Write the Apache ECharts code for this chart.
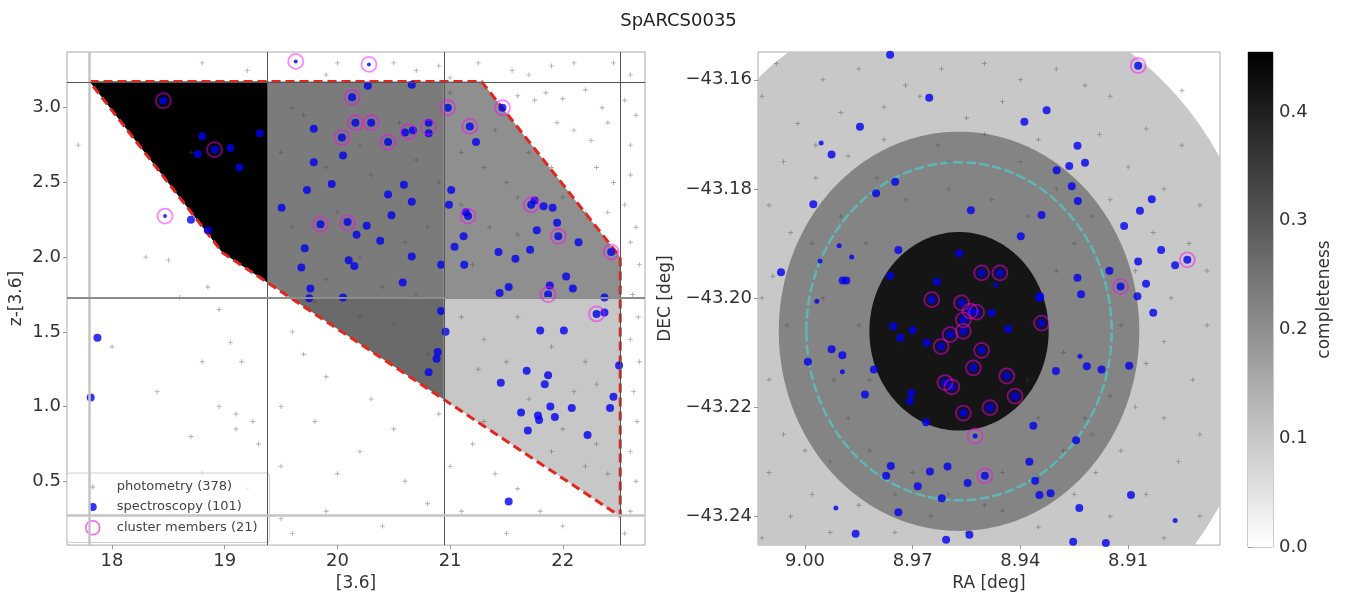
<!DOCTYPE html>
<html>
<head>
<meta charset="utf-8">
<script src="https://cdn.jsdelivr.net/npm/echarts@6/dist/echarts.min.js"></script>
<style>
html,body{margin:0;padding:0;background:#fff}
#main{width:1357px;height:597px}
</style>
</head>
<body>
<div id="main"></div>
<script>
var FONT = 'DejaVu Sans';

// ---------- left panel: colour-magnitude selection ----------
var xTicksL = [18, 19, 20, 21, 22];
var yTicksL = [0.5, 1.0, 1.5, 2.0, 2.5, 3.0];
var xEdges = [17.8, 19.375, 20.945, 22.51];
var yEdges = [0.265, 1.727, 3.175];
// completeness per cell, row 0 = lower y bin, row 1 = upper y bin
var cellCompl = [[0.0, 0.265, 0.10], [0.46, 0.235, 0.20]];
var selPoly = [[17.8, 3.175], [21.28, 3.175], [22.51, 2.0], [22.51, 0.265], [18.98, 2.03]];

var photL = [[21.55,3.25],[21.7,3.22],[21.9,3.28],[22.1,3.3],[22.45,3.3],[22.6,3.22],[21.6,3.08],[21.75,3.05],[21.85,3.1],[22.0,3.06],[22.2,3.12],[22.35,3.0],[22.55,3.05],[22.65,2.95],[21.95,2.9],[22.1,2.85],[22.25,2.78],[22.4,2.9],[22.6,2.75],[22.3,2.6],[22.45,2.5],[22.6,2.55],[22.55,2.35],[22.65,2.2],[22.4,2.3],[22.6,2.1],[22.68,1.95],[22.62,1.75],[22.67,1.6],[22.6,1.45],[22.68,1.3],[22.63,1.1],[22.66,0.9],[22.6,0.7],[22.65,0.5],[22.6,0.3],[22.55,0.15],
  [20.0,3.3],[20.5,3.3],[20.7,3.25],[20.9,3.28],[21.0,3.2],[21.25,3.3],[19.9,3.22],[18.8,3.3],[19.2,3.25],
  [19.6,3.0],[19.5,2.7],[19.9,2.6],[20.3,2.55],[20.7,2.65],[20.9,2.5],[21.3,2.6],[21.5,2.5],[21.7,2.7],[21.4,2.85],[21.6,2.4],[21.9,2.6],[22.0,2.4],[22.2,2.3],[21.35,2.2],[21.6,2.15],[21.2,1.95],[20.6,2.1],[20.2,2.0],[19.9,1.85],[20.4,1.8],[20.7,1.75],[21.1,1.6],[21.3,1.45],[21.6,1.6],[21.9,1.4],[22.2,1.3],[22.3,1.15],[22.1,1.1],[21.5,1.3],[21.25,1.25],[21.7,1.05],[22.0,0.85],[22.3,0.75],[22.4,0.55],[22.2,0.6],[21.9,0.7],[20.5,1.55],[20.2,1.6],[19.8,1.7],[20.8,1.35],[19.6,2.2],[20.0,2.3],[20.8,2.2],[21.1,2.35],[20.55,2.9],[20.2,2.75],[19.7,2.95],[21.1,2.7],[21.0,3.1],
  [19.6,1.5],[19.7,1.35],[19.9,1.2],[20.3,1.05],[20.5,0.85],[20.2,0.7],[19.8,0.9],[19.5,1.0],[20.0,0.55],[20.6,0.5],[20.8,0.35],[21.0,0.6],[21.2,0.75],[21.4,0.55],[21.6,0.45],[21.1,0.3],[21.8,0.3],[22.0,0.2],[21.5,0.15],[20.4,0.2],[19.9,0.3],[19.6,0.15],[21.3,0.9],[20.9,0.95],[19.5,0.6],[19.2,0.45],
  [17.7,2.75],[18.3,2.0],[18.7,2.7],[18.5,1.98],[18.6,1.73],[18.85,1.8],[18.95,1.65],[19.05,1.43],[19.15,1.3],[18.4,1.1],[18.8,1.3],[18.0,1.4],[18.95,1.0],[19.1,0.95],[19.25,0.9],[19.1,0.85],[19.3,0.75],[18.7,0.8],[18.8,0.55],[18.2,0.4],[18.5,0.3],[19.5,0.25]];

var specL = [[18.80,2.81],[19.05,2.73],[18.76,2.69],[19.13,2.60],[19.31,2.83],[18.70,2.25],[18.85,2.18],[18.455,3.047],[18.91,2.72],
  [19.505,2.33],[19.79,2.86],[20.04,2.80],[20.13,3.07],[20.16,2.90],[20.05,2.68],[19.79,2.635],[19.95,2.49],[19.73,2.45],[19.85,2.22],[20.09,2.235],[20.17,2.15],[19.71,2.06],[19.68,1.93],[20.10,1.98],[20.15,1.94],[19.76,1.79],[19.75,1.725],[20.05,1.73],
  [20.27,3.147],[20.66,3.153],[20.98,3.00],[20.30,2.90],[20.45,2.77],[20.60,2.835],[20.67,2.85],[20.81,2.90],[20.81,2.83],[21.175,2.875],[21.23,2.77],[20.59,2.485],[20.45,2.42],[20.66,2.37],[20.48,2.28],[21.01,2.45],[20.99,2.35],[20.26,2.21],[20.38,2.11],[20.66,2.005],[20.92,1.95],[21.125,1.95],[21.04,2.07],[21.12,2.14],[21.16,2.275],[21.14,2.30],[20.58,1.83],[20.92,1.64],
  [21.465,3.00],[21.72,2.35],[21.75,2.38],[21.83,2.34],[21.91,2.33],[21.95,2.23],[21.77,2.18],[21.96,2.14],[22.14,2.10],[22.43,2.035],[21.43,2.035],[21.58,1.99],[21.71,2.05],[22.03,1.87],[22.09,1.79],[21.885,1.81],[21.87,1.75],[21.44,1.76],[21.52,1.80],[22.37,1.73],[22.30,1.62],[22.37,1.63],
  [20.96,1.50],[20.89,1.365],[20.88,1.32],[20.81,1.23],[21.80,1.51],[22.01,1.51],[22.50,1.275],[21.68,1.24],[21.87,1.21],[21.84,1.15],[21.45,1.16],[22.45,1.065],[22.42,0.99],[21.89,1.00],[21.93,0.93],[21.78,0.94],[21.79,0.91],[22.08,0.99],[21.63,0.96],[21.69,0.84],[22.22,0.81],[21.52,0.365],[17.87,1.46],[17.81,1.06]];
var specSmallL = [[18.47,2.275],[19.63,3.31],[20.28,3.29]];
var clusterL = [[18.455,3.047],[18.91,2.72],[18.47,2.275],[19.63,3.31],[20.28,3.29],[20.13,3.07],[20.98,3.00],[20.16,2.90],[20.30,2.90],[20.04,2.80],[20.45,2.77],[20.63,2.84],[20.81,2.87],[21.175,2.875],[19.85,2.22],[20.09,2.23],[21.16,2.275],[21.465,3.00],[21.72,2.35],[21.96,2.14],[22.43,2.035],[21.87,1.75],[22.30,1.62]];

// ---------- right panel: sky positions ----------
var raTicks = [9.00, 8.97, 8.94, 8.91];
var decTicks = [-43.24, -43.22, -43.20, -43.18, -43.16];
var raMin = 8.8844, raMax = 9.0131, decMin = -43.2453, decMax = -43.1549;
var raC = 8.9571, decC = -43.2061;
var ringR = [0.0618, 0.0366, 0.0182];
var ringCompl = [0.098, 0.22, 0.418];
var r200 = 0.031;
var cbTicks = [0.0, 0.1, 0.2, 0.3, 0.4];
var cbMax = 0.455;

var photR = [[9.008,-43.157],[8.995,-43.160],[8.985,-43.158],[8.972,-43.161],[8.962,-43.158],[8.950,-43.157],[8.940,-43.160],[8.930,-43.158],[8.922,-43.161],[8.915,-43.163],[8.945,-43.164],[8.955,-43.167],[8.968,-43.163],[8.978,-43.165],[8.990,-43.166],[9.002,-43.168],[9.006,-43.175],[8.997,-43.172],[8.988,-43.174],[8.978,-43.171],[8.963,-43.172],[8.950,-43.170],[8.935,-43.171],[8.918,-43.170],[8.905,-43.169],[8.895,-43.172],[8.910,-43.176],[8.900,-43.180],[8.890,-43.183],[8.915,-43.182],[9.010,-43.183],[9.004,-43.188],[9.009,-43.196],[9.005,-43.205],[9.010,-43.215],[9.006,-43.225],[9.010,-43.232],[9.004,-43.240],[8.998,-43.236],[8.993,-43.243],[8.985,-43.238],[8.975,-43.243],[8.965,-43.240],[8.955,-43.243],[8.945,-43.239],[8.935,-43.242],[8.925,-43.236],[8.915,-43.240],[8.905,-43.236],[8.896,-43.230],[8.890,-43.225],[8.900,-43.222],[8.892,-43.215],[8.905,-43.212],[8.888,-43.205],[8.898,-43.200],[8.893,-43.190],[8.903,-43.188],[8.912,-43.205],[8.915,-43.218],[8.922,-43.222],[8.912,-43.228],[8.919,-43.232],[8.928,-43.228],
  [8.990,-43.185],[8.983,-43.190],[8.995,-43.200],[8.992,-43.215],[8.988,-43.222],[8.982,-43.228],[8.970,-43.232],[8.960,-43.236],[8.945,-43.232],[8.935,-43.222],[8.928,-43.210],[8.930,-43.195],[8.938,-43.185],[8.948,-43.182],[8.960,-43.180],[8.972,-43.182],[8.985,-43.205],[8.982,-43.215],[8.938,-43.215],
  [8.925,-43.190],[8.930,-43.180],[8.940,-43.175],[8.960,-43.175],[8.980,-43.178],[8.997,-43.178],[8.998,-43.190],[9.000,-43.228],[8.993,-43.230],[8.975,-43.236],[8.950,-43.238],[8.935,-43.233],[8.920,-43.225],[8.908,-43.220],[8.900,-43.208],[8.908,-43.195],[8.920,-43.185],[8.895,-43.162],[8.888,-43.195],[8.890,-43.240],[8.900,-43.244],[9.012,-43.163],[9.012,-43.200],[9.012,-43.244]];

var specR = [[8.9763,-43.1554],[8.9654,-43.1633],[8.9847,-43.1686],[8.9926,-43.1737],[8.9749,-43.1787],[8.9802,-43.1808],[8.9977,-43.1828],[8.9740,-43.1912],[8.9895,-43.1968],[8.9885,-43.1968],[9.0067,-43.1953],[8.9763,-43.1959],
  [8.9072,-43.1574],[8.9327,-43.1656],[8.9389,-43.1677],[8.9241,-43.1721],[8.9220,-43.1752],[8.9264,-43.1758],[8.9299,-43.1766],[8.9257,-43.1795],[8.9240,-43.1822],[8.9034,-43.1819],[8.9067,-43.1840],[8.9111,-43.1868],[8.9538,-43.1839],[8.9341,-43.1848],[8.9399,-43.1887],[8.9008,-43.1912],[8.9072,-43.1933],[8.8969,-43.1940],[8.8935,-43.1930],[8.9152,-43.1950],[8.9121,-43.1979],[8.9050,-43.1974],[8.9074,-43.1997],[8.9241,-43.1963],[8.9231,-43.1993],[8.9030,-43.2027],[8.9570,-43.1918],[8.9508,-43.1954],[8.9457,-43.1954],[8.9345,-43.1997],
  [8.9633,-43.1970],[8.9647,-43.2003],[8.9564,-43.2009],[8.9540,-43.2024],[8.9522,-43.2026],[8.9559,-43.2040],[8.9596,-43.2067],[8.9559,-43.2061],[8.9480,-43.2027],[8.9347,-43.2000],[8.9341,-43.2046],[8.9434,-43.2057],[8.9754,-43.2052],[8.9700,-43.2059],[8.9735,-43.2073],[8.9661,-43.2082],[8.9621,-43.2089],[8.9508,-43.2096],[8.9531,-43.2128],[8.9808,-43.2131],[8.9301,-43.2134],[8.9438,-43.2143],[8.9610,-43.2155],[8.9591,-43.2163],[8.9415,-43.2180],[8.9833,-43.2177],[8.9703,-43.2174],[8.9708,-43.2189],[8.9559,-43.2211],[8.9485,-43.2201],[8.9663,-43.2228],[8.9364,-43.2234],
  [8.9926,-43.2094],[8.9896,-43.2105],[8.9992,-43.2117],[8.9761,-43.2308],[8.9774,-43.2326],[8.9652,-43.2318],[8.9686,-43.2345],[8.9619,-43.2367],[8.9603,-43.2309],[8.9740,-43.2393],[8.9859,-43.2432],[8.9607,-43.2443],
  [8.9215,-43.2125],[8.9174,-43.2131],[8.9097,-43.2124],[8.9245,-43.2261],[8.9375,-43.2300],[8.9359,-43.2335],[8.9347,-43.2361],[8.9316,-43.2358],[8.9547,-43.2339],[8.9499,-43.2326],[8.9092,-43.2361],[8.9236,-43.2385],[8.9542,-43.2434],[8.9253,-43.2447],[8.9162,-43.2449]];
var specSmallR = [[8.9955,-43.1716],[8.9905,-43.1904],[8.9870,-43.1925],[8.9958,-43.1932],[8.9967,-43.2006],[8.9896,-43.2135],[8.9914,-43.2385],[8.9234,-43.2107],[8.8969,-43.2408],[8.9468,-43.1976],[8.9526,-43.2253]];
var clusterR = [[8.9072,-43.1574],[8.8935,-43.1930],[8.9121,-43.1979],[8.9508,-43.1954],[8.9457,-43.1954],[8.9647,-43.2003],[8.9564,-43.2009],[8.9540,-43.2024],[8.9522,-43.2026],[8.9559,-43.2040],[8.9596,-43.2067],[8.9559,-43.2061],[8.9341,-43.2046],[8.9621,-43.2089],[8.9508,-43.2096],[8.9531,-43.2128],[8.9438,-43.2143],[8.9610,-43.2155],[8.9591,-43.2163],[8.9415,-43.2180],[8.9559,-43.2211],[8.9485,-43.2201],[8.9526,-43.2253],[8.9499,-43.2326]];

// gray_r colour map
function grayR(v) {
  var g = Math.round(255 * (1 - Math.min(v, cbMax) / cbMax));
  return 'rgb(' + g + ',' + g + ',' + g + ')';
}

// Sutherland-Hodgman clip of a polygon against a data rectangle
function clipRect(poly, x0, x1, y0, y1) {
  var planes = [[0, x0, 1], [0, x1, -1], [1, y0, 1], [1, y1, -1]];
  planes.forEach(function (pl) {
    var k = pl[0], v = pl[1], s = pl[2], out = [];
    for (var i = 0; i < poly.length; i++) {
      var a = poly[i], b = poly[(i + 1) % poly.length];
      var ina = (a[k] - v) * s >= 0, inb = (b[k] - v) * s >= 0;
      if (ina) out.push(a);
      if (ina !== inb) {
        var t = (v - a[k]) / (b[k] - a[k]);
        out.push([a[0] + t * (b[0] - a[0]), a[1] + t * (b[1] - a[1])]);
      }
    }
    poly = out;
  });
  return poly;
}

var cells = [];
for (var j = 0; j < 2; j++) {
  for (var i = 0; i < 3; i++) {
    cells.push([xEdges[i], yEdges[j], xEdges[i + 1], yEdges[j + 1], cellCompl[j][i]]);
  }
}

var cosDec = Math.cos(decC * Math.PI / 180);
function circlePts(r) {
  var pts = [];
  for (var k = 0; k < 240; k++) {
    var t = 2 * Math.PI * k / 240;
    pts.push([raC + r / cosDec * Math.cos(t), decC + r * Math.sin(t)]);
  }
  return pts;
}

var plusSym = 'path://M-1,-0.18H1V0.18H-1Z M-0.18,-1H0.18V1H-0.18Z';
var plusIcon = 'path://M0,0h.01v.01h-.01z M14,14h.01v.01h-.01z M6.4,4.6h1.2v4.8h-1.2z M4.6,6.4h4.8v1.2h-4.8z';
var dotIcon = 'path://M0,0h.01v.01h-.01z M14,14h.01v.01h-.01z M3,7a4,4 0 1,0 8,0a4,4 0 1,0 -8,0z';

var lab = { fontSize: 17, color: '#333', fontFamily: FONT };
var tick = { fontSize: 18, color: '#333', fontFamily: FONT };
var myChart = echarts.init(document.getElementById('main'));

var option = {
  animation: false,
  title: {
    text: 'SpARCS0035', left: 'center', top: 7,
    textStyle: { fontSize: 18, fontWeight: 'normal', color: '#222', fontFamily: FONT }
  },
  legend: {
    orient: 'vertical', left: 67, top: 473,
    padding: [7, 12, 7, 18], itemGap: 6, itemWidth: 38, itemHeight: 14,
    borderColor: '#cfcfcf', borderWidth: 1, borderRadius: 3,
    backgroundColor: 'rgba(255,255,255,0.8)',
    textStyle: { fontSize: 13, color: '#444', fontFamily: FONT },
    data: [
      { name: 'photometry (378)', icon: plusIcon, itemStyle: { color: '#999' } },
      { name: 'spectroscopy (101)', icon: dotIcon, itemStyle: { color: '#0000ee' } },
      { name: 'cluster members (21)', icon: 'circle', itemStyle: { color: 'rgba(0,0,0,0)', borderColor: 'rgba(255,0,255,0.8)', borderWidth: 1.5 } }
    ]
  },
  grid: [
    { left: 67, top: 52, width: 578, height: 495, show: true, borderColor: '#aaa', borderWidth: 1, containLabel: false },
    { left: 758, top: 52, width: 462, height: 495, show: true, borderColor: '#aaa', borderWidth: 1, containLabel: false },
    { left: 1248, top: 52, width: 25, height: 495, show: true, borderColor: '#999', borderWidth: 1, containLabel: false }
  ],
  xAxis: [
    {
      gridIndex: 0, type: 'value', min: 17.6, max: 22.73,
      axisLine: { show: false }, splitLine: { show: false },
      axisTick: { customValues: xTicksL, length: 4, lineStyle: { color: '#999' } },
      axisLabel: Object.assign({ customValues: xTicksL, formatter: function (v) { return String(v); }, margin: 7 }, tick),
      name: '[3.6]', nameLocation: 'middle', nameGap: 28, nameTextStyle: lab
    },
    {
      gridIndex: 1, type: 'value', min: raMin, max: raMax, inverse: true,
      axisLine: { show: false }, splitLine: { show: false },
      axisTick: { customValues: raTicks, length: 4, lineStyle: { color: '#999' } },
      axisLabel: Object.assign({ customValues: raTicks, formatter: function (v) { return v.toFixed(2); }, margin: 7 }, tick),
      name: 'RA [deg]', nameLocation: 'middle', nameGap: 28, nameTextStyle: lab
    },
    { gridIndex: 2, type: 'value', min: 0, max: 1, show: false }
  ],
  yAxis: [
    {
      gridIndex: 0, type: 'value', min: 0.073, max: 3.373,
      axisLine: { show: false }, splitLine: { show: false },
      axisTick: { customValues: yTicksL, length: 4, lineStyle: { color: '#999' } },
      axisLabel: Object.assign({ customValues: yTicksL, formatter: function (v) { return v.toFixed(1); }, margin: 6 }, tick),
      name: 'z-[3.6]', nameLocation: 'middle', nameGap: 42, nameRotate: 90, nameTextStyle: lab
    },
    {
      gridIndex: 1, type: 'value', min: decMin, max: decMax,
      axisLine: { show: false }, splitLine: { show: false },
      axisTick: { customValues: decTicks, length: 4, lineStyle: { color: '#999' } },
      axisLabel: Object.assign({ customValues: decTicks, formatter: function (v) { return v.toFixed(2).replace('-', '\u2212'); }, margin: 6 }, tick),
      name: 'DEC [deg]', nameLocation: 'middle', nameGap: 84, nameRotate: 90, nameTextStyle: lab
    },
    {
      gridIndex: 2, type: 'value', min: 0, max: cbMax, position: 'right',
      axisLine: { show: false }, splitLine: { show: false },
      axisTick: { customValues: cbTicks, length: 4, lineStyle: { color: '#999' } },
      axisLabel: Object.assign({ customValues: cbTicks, formatter: function (v) { return v.toFixed(1); }, margin: 6 }, tick),
      name: 'completeness', nameLocation: 'middle', nameGap: 43, nameRotate: 90, nameTextStyle: lab
    }
  ],
  series: [
    {
      type: 'custom', xAxisIndex: 0, yAxisIndex: 0, z: 1, silent: true,
      data: cells,
      renderItem: function (params, api) {
        var c = cells[params.dataIndex];
        var poly = clipRect(selPoly, c[0], c[2], c[1], c[3]);
        if (poly.length < 3) return;
        return {
          type: 'polygon',
          shape: { points: poly.map(function (p) { return api.coord(p); }) },
          style: { fill: grayR(c[4]) }
        };
      }
    },
    {
      name: 'photometry (378)', type: 'scatter', xAxisIndex: 0, yAxisIndex: 0, z: 2,
      symbol: plusSym, symbolSize: 5, data: photL,
      itemStyle: { color: 'rgba(70,70,70,0.55)' },
      markLine: {
        silent: true, symbol: 'none', label: { show: false },
        data: [
          { xAxis: xEdges[0], lineStyle: { color: '#c4c4c4', width: 2.5, type: 'solid' } },
          { xAxis: xEdges[1], lineStyle: { color: '#555', width: 1, type: 'solid' } },
          { xAxis: xEdges[2], lineStyle: { color: '#555', width: 1, type: 'solid' } },
          { xAxis: xEdges[3], lineStyle: { color: '#555', width: 1, type: 'solid' } },
          { yAxis: yEdges[0], lineStyle: { color: '#c4c4c4', width: 2.5, type: 'solid' } },
          { yAxis: yEdges[1], lineStyle: { color: '#8c8c8c', width: 2, type: 'solid' } },
          { yAxis: yEdges[2], lineStyle: { color: '#555', width: 1, type: 'solid' } }
        ]
      }
    },
    {
      type: 'line', xAxisIndex: 0, yAxisIndex: 0, z: 3, silent: true,
      symbol: 'none', data: selPoly.concat([selPoly[0]]),
      lineStyle: { color: '#e4261c', width: 3, type: [9, 5] }
    },
    {
      name: 'spectroscopy (101)', type: 'scatter', xAxisIndex: 0, yAxisIndex: 0, z: 4,
      symbolSize: 8, data: specL, itemStyle: { color: '#0000ee' }
    },
    {
      name: 'spectroscopy (101)', type: 'scatter', xAxisIndex: 0, yAxisIndex: 0, z: 4,
      symbolSize: 4, data: specSmallL, itemStyle: { color: '#0000ee' }
    },
    {
      name: 'cluster members (21)', type: 'scatter', xAxisIndex: 0, yAxisIndex: 0, z: 5,
      symbolSize: 15, data: clusterL,
      itemStyle: { color: 'rgba(0,0,0,0)', borderColor: 'rgba(255,0,255,0.6)', borderWidth: 1.8 }
    },
    {
      type: 'custom', xAxisIndex: 1, yAxisIndex: 1, z: 1, silent: true,
      data: ringR.map(function (r, k) { return [raC, decC, r, ringCompl[k]]; }),
      renderItem: function (params, api) {
        var k = params.dataIndex;
        var poly = clipRect(circlePts(ringR[k]), raMin, raMax, decMin, decMax);
        return {
          type: 'polygon',
          shape: { points: poly.map(function (p) { return api.coord(p); }) },
          style: { fill: grayR(ringCompl[k]) }
        };
      }
    },
    {
      type: 'custom', xAxisIndex: 1, yAxisIndex: 1, z: 2, silent: true,
      data: [[raC, decC, r200]],
      renderItem: function (params, api) {
        return {
          type: 'polygon',
          shape: { points: circlePts(r200).map(function (p) { return api.coord(p); }) },
          style: { fill: 'none', stroke: '#5fb6b6', lineWidth: 2.5, lineDash: [10, 3] }
        };
      }
    },
    {
      name: 'photometry sky', type: 'scatter', xAxisIndex: 1, yAxisIndex: 1, z: 3,
      symbol: plusSym, symbolSize: 5, data: photR,
      itemStyle: { color: 'rgba(70,70,70,0.55)' }
    },
    {
      name: 'spectroscopy sky', type: 'scatter', xAxisIndex: 1, yAxisIndex: 1, z: 4,
      symbolSize: 8, data: specR, itemStyle: { color: '#0000ee' }
    },
    {
      name: 'spectroscopy sky', type: 'scatter', xAxisIndex: 1, yAxisIndex: 1, z: 4,
      symbolSize: 5, data: specSmallR, itemStyle: { color: '#0000ee' }
    },
    {
      name: 'members sky', type: 'scatter', xAxisIndex: 1, yAxisIndex: 1, z: 5,
      symbolSize: 15, data: clusterR,
      itemStyle: { color: 'rgba(0,0,0,0)', borderColor: 'rgba(255,0,255,0.6)', borderWidth: 1.8 }
    },
    {
      type: 'custom', xAxisIndex: 2, yAxisIndex: 2, silent: true,
      data: [[0, 0]],
      renderItem: function (params, api) {
        var p0 = api.coord([0, cbMax]), p1 = api.coord([1, 0]);
        return {
          type: 'rect',
          shape: { x: p0[0], y: p0[1], width: p1[0] - p0[0], height: p1[1] - p0[1] },
          style: { fill: new echarts.graphic.LinearGradient(0, 0, 0, 1, [{ offset: 0, color: '#000' }, { offset: 1, color: '#fff' }]) }
        };
      }
    }
  ]
};

myChart.setOption(option);
</script>
</body>
</html>
